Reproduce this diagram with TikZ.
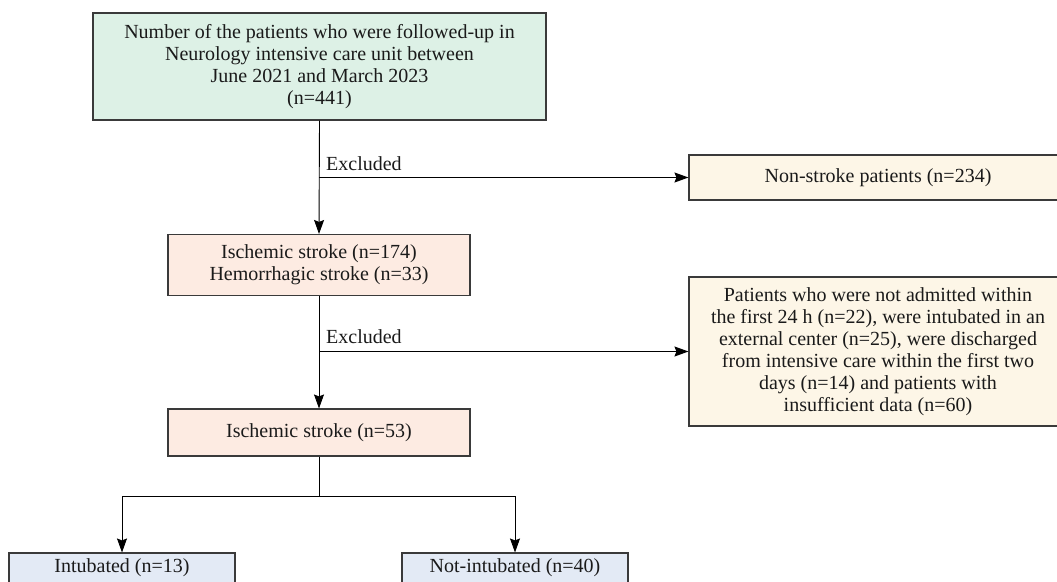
\documentclass[tikz,border=0pt]{standalone}
\usepackage{fontspec}
\setmainfont{Liberation Serif}
\usetikzlibrary{arrows.meta,positioning,calc}
\definecolor{cgreen}{HTML}{DDF1E6}
\definecolor{csalmon}{HTML}{FDEBE2}
\definecolor{ccream}{HTML}{FDF6E7}
\definecolor{cblue}{HTML}{E3EAF5}
\definecolor{cedge}{HTML}{3A3A3A}
\definecolor{ctext}{HTML}{1A1A1A}
\begin{document}
\begin{tikzpicture}[x=1pt,y=-1pt,
  every node/.style={font=\fontsize{20pt}{22pt}\selectfont, text=ctext},
  box/.style={draw=cedge, line width=1.1pt, rectangle, align=center, inner sep=0pt},
  conn/.style={line width=0.9pt, draw=black},
  arr/.style={conn, -{Stealth[length=14pt,width=10pt,inset=2pt]}}
]
\useasboundingbox (0,0) rectangle (1057,581);
\node[box, fill=cgreen, minimum width=453pt, minimum height=107pt] (top) at (319.5,66.5)
  {Number of the patients who were followed-up in\\Neurology intensive care unit between\\June 2021 and March 2023\\(n=441)};
\node[box, fill=ccream, minimum width=378pt, minimum height=45pt] (nonstroke) at (878,177.5)
  {Non-stroke patients (n=234)};
\node[box, fill=csalmon, minimum width=302pt, minimum height=61pt] (strokes) at (319,265)
  {Ischemic stroke (n=174)\\Hemorrhagic stroke (n=33)};
\node[box, fill=ccream, minimum width=378pt, minimum height=149pt] (excl) at (878,351.5)
  {Patients who were not admitted within\\the first 24 h (n=22), were intubated in an\\external center (n=25), were discharged\\from intensive care within the first two\\days (n=14) and patients with\\insufficient data (n=60)};
\node[box, fill=csalmon, minimum width=302pt, minimum height=47pt] (isch) at (319,432.5)
  {Ischemic stroke (n=53)};
\node[box, fill=cblue, minimum width=226pt, minimum height=30pt] (intub) at (122,568)
  {Intubated (n=13)};
\node[box, fill=cblue, minimum width=226pt, minimum height=30pt] (notintub) at (515,568)
  {Not-intubated (n=40)};

\coordinate (b1) at (319,177.5);
\coordinate (b2) at (319,351.5);
\coordinate (b3) at (319,496);
\coordinate (l3) at (122,496);
\coordinate (r3) at (515,496);

\draw[arr] (top.south) -- (strokes.north);
\draw[arr] (b1) -- (nonstroke.west);
\node[anchor=south west, inner sep=0pt] (ex1) at (326,171) {Excluded};
\draw[arr] (strokes.south) -- (isch.north);
\draw[arr] (b2) -- (excl.west);
\node[anchor=south west, inner sep=0pt] (ex2) at (326,344) {Excluded};
\draw[conn] (isch.south) -- (b3);
\draw[conn] (l3) -- (r3);
\draw[arr] (l3) -- (intub.north);
\draw[arr] (r3) -- (notintub.north);
\end{tikzpicture}
\end{document}
